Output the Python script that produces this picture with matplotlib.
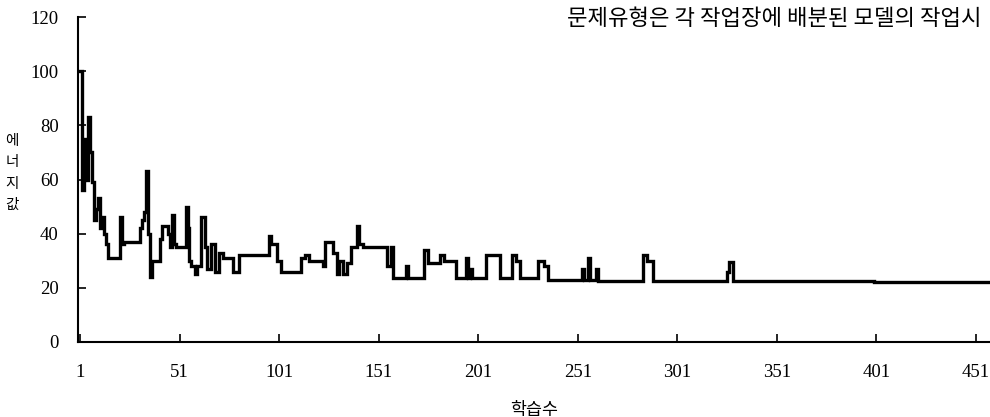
import matplotlib
matplotlib.use("Agg")
import matplotlib.pyplot as plt

# 학습수(iteration) 구간 시작점과 에너지값 (그림에서 읽은 값, 계단형으로 그림)
iters = [1, 2, 3, 4, 5, 6, 7, 8, 9, 10, 11, 12, 13, 14, 15,
         21, 22, 23, 31, 32, 33, 34, 35, 36, 37, 41, 42, 45, 46, 47, 48, 49,
         54, 55, 56, 57, 59, 60, 62, 64, 65, 67, 69, 71, 73, 78, 81,
         96, 97, 100, 102, 112, 114, 116, 123, 124, 128, 130, 131, 133, 135,
         137, 140, 141, 143, 155, 157, 158, 165, 166, 174, 176, 182, 184,
         190, 195, 196, 197, 198, 205, 212, 218, 220, 222, 231, 234, 236,
         253, 254, 256, 257, 260, 261, 284, 286, 287, 289, 326, 327, 329, 400, 458]
energy = [100, 56, 75, 60, 83, 70, 59, 45, 49, 53, 42, 46, 40, 36, 31,
          46, 36, 37, 42, 45, 48, 63, 40, 24, 30, 38, 43, 40, 35, 47, 36, 35,
          50, 42, 30, 28, 25, 28, 46, 35, 27, 36, 26, 33, 31, 26, 32,
          39, 36, 30, 26, 31, 32, 30, 28, 37, 33, 25, 30, 25, 29,
          35, 43, 36, 35, 28, 35, 23.5, 28, 23.5, 34, 29, 32, 30,
          23.5, 31, 23.5, 27, 23.5, 32, 23.5, 32, 30, 23.5, 30, 28, 23,
          27, 23, 31, 23, 27, 22.5, 32, 30, 30, 22.5, 26, 29.5, 22.5, 22, 22]

xticks = [1, 51, 101, 151, 201, 251, 301, 351, 401, 451]
yticks = [0, 20, 40, 60, 80, 100, 120]

kr = ["Noto Sans CJK KR", "DejaVu Sans"]
num_font = "Liberation Serif"

fig = plt.figure(figsize=(9.9, 4.17), dpi=100)
ax = fig.add_axes([0.0788, 0.18, 0.921, 0.779])

ax.plot(iters, energy, color="black", lw=2.4, drawstyle="steps-post",
        solid_joinstyle="miter")

ax.set_xlim(0, 458)
ax.set_ylim(0, 120)
ax.set_xticks(xticks)
ax.set_yticks(yticks)
ax.set_xticklabels([str(t) for t in xticks], fontfamily=num_font, fontsize=13.5)
ax.set_yticklabels([str(t) for t in yticks], fontfamily=num_font, fontsize=13.5)
ax.tick_params(axis="both", direction="in", length=6, width=1.2, color="black")
ax.tick_params(axis="x", pad=16)
ax.tick_params(axis="y", pad=14)

for s in ["top", "right"]:
    ax.spines[s].set_visible(False)
for s in ["left", "bottom"]:
    ax.spines[s].set_linewidth(1.5)

ax.set_xlabel("학습수", family=kr, fontsize=12.5, labelpad=14)

# 세로로 쌓인 y축 이름
fig.text(0.012, 0.585, "에\n너\n지\n값", family=kr, fontsize=10.5,
         ha="center", va="center", linespacing=1.65)

# 위쪽 본문 글 한 줄
fig.text(0.573, 0.955, "문제유형은 각 작업장에 배분된 모델의 작업시",
         family=kr, fontsize=16, ha="left", va="center")

fig.savefig("out.png", dpi=100, facecolor="white")
